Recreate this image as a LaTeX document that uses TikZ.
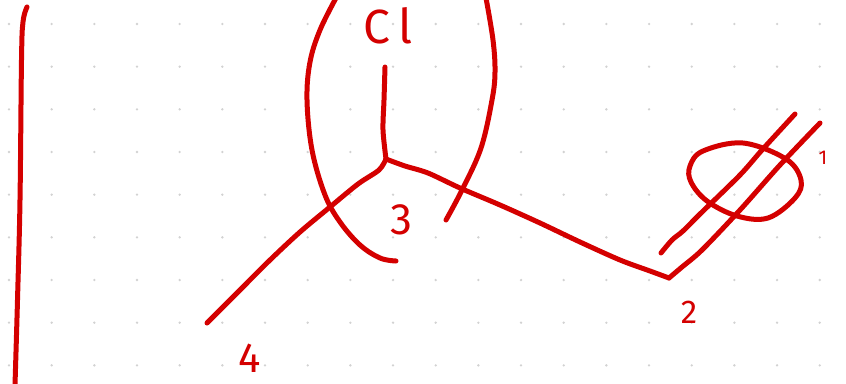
\documentclass[tikz,border=0pt]{standalone}
\usepackage{fontspec}
\setmainfont{Fira Sans}
\definecolor{ink}{RGB}{212,0,0}
\definecolor{dotc}{RGB}{210,210,210}
\begin{document}
\begin{tikzpicture}[x=1pt,y=-1pt,
  pen/.style={draw=ink,line width=5pt,line cap=round,line join=round},
  lbl/.style={text=ink,inner sep=0pt}]
\useasboundingbox (0,0) rectangle (846,383);
\fill[white] (0,0) rectangle (846,383);
% dot grid
\foreach \i in {0,...,19}{
  \foreach \j in {0,...,8}{
    \fill[dotc] ({9+42.67*\i},{24+42.67*\j}) circle (1.3pt);
  }
}
% left vertical stroke
\draw[pen] plot[smooth,tension=0.6] coordinates {(27,7) (23,22) (21.5,60) (20,200) (17.5,300) (15,385)};
% left arc
\draw[pen] plot[smooth,tension=0.6] coordinates {(336,-2) (320,30) (310,62) (307,100) (312,150) (325,195) (340,222) (360,245) (380,258) (396,261)};
% right arc
\draw[pen] plot[smooth,tension=0.6] coordinates {(486,-2) (493,40) (495,72) (492,100) (481,148) (462,190) (446,220)};
% bonds
\coordinate (c) at (386,159);
\draw[pen] plot[smooth,tension=0.5] coordinates {(385,67) (384,100) (383,130) (386,159)};
\draw[pen] plot[smooth,tension=0.5] coordinates {(386,159) (379,170) (358,184) (330,207) (300,232) (270,260) (240,290) (207,323)};
\draw[pen] plot[smooth,tension=0.5] coordinates {(386,159) (405,166) (428,173) (460,188) (500,205) (540,223) (580,242) (620,260) (650,271) (669,278)};
\draw[pen] plot[smooth,tension=0.5] coordinates {(669,278) (682,267) (702,250) (740,210) (780,165) (820,123)};
\draw[pen] plot[smooth,tension=0.5] coordinates {(661,253) (672,240) (683,231) (700,214) (740,175) (762,150) (795,114)};
% loop
\draw[pen] plot[smooth cycle,tension=0.6] coordinates {(703,151) (743,143) (786,159) (801,180) (795,198) (768,218) (737,216) (707,201) (691,182) (690,166)};
% labels
\node[lbl,font=\fontsize{48}{48}\selectfont] (cl) at (388,26) {C\,l};
\node[lbl,font=\fontsize{44}{44}\selectfont] (n3) at (401,220) {3};
\node[lbl,font=\fontsize{42}{42}\selectfont] (n4) at (250,358) {4};
\node[lbl,font=\fontsize{33}{33}\selectfont] (n2) at (689,312) {2};
\node[lbl,font=\fontsize{20}{20}\selectfont] (n1) at (823,158) {1};
\end{tikzpicture}
\end{document}
